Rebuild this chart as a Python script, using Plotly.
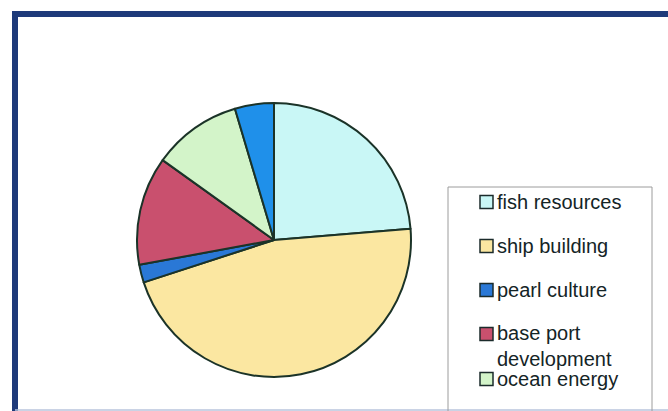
import plotly.graph_objects as go

# Share of each marine industry (percent), read clockwise from 12 o'clock
categories = ["fish resources", "ship building", "pearl culture",
              "base port development", "ocean energy", "other"]
shares = [23.7, 46.3, 2.1, 12.8, 10.5, 4.6]
colors = ["#c9f7f6", "#fbe7a1", "#2a78d6", "#c9506e", "#d3f4c9", "#1f90ea"]

# Legend entries shown in the box (the last slice falls below the visible box)
legend_labels = ["fish resources", "ship building", "pearl culture",
                 "base port<br>development", "ocean energy"]
legend_rows_y = [202, 246, 290, 334, 379]      # pixel centre of each marker row
legend_text_y = [202, 246, 290, 346, 379]      # pixel centre of each text block

W, H = 668, 411


def px(x):
    return x / W


def py(y):
    return 1 - y / H


# pie placement in pixels
cx, cy, r = 274, 240, 137

fig = go.Figure(
    go.Pie(
        labels=categories,
        values=shares,
        sort=False,
        direction="clockwise",
        rotation=0,
        textinfo="none",
        marker=dict(colors=colors, line=dict(color="#1b3328", width=2)),
        domain=dict(x=[px(cx - r), px(cx + r)], y=[py(cy + r), py(cy - r)]),
        showlegend=False,
    )
)

shapes = []
annotations = []

# outer frame (right and bottom edges run past the page)
shapes.append(dict(type="rect", xref="paper", yref="paper",
                   x0=px(15), x1=px(674), y0=py(416), y1=py(14),
                   line=dict(color="#1e3a7a", width=6), layer="above"))
# faint lower edge
shapes.append(dict(type="line", xref="paper", yref="paper",
                   x0=px(15), x1=px(668), y0=py(410), y1=py(410),
                   line=dict(color="#b8c4dc", width=1.5)))

# legend box
shapes.append(dict(type="rect", xref="paper", yref="paper",
                   x0=px(448), x1=px(652), y0=py(415), y1=py(187),
                   line=dict(color="#9c9c9c", width=1), fillcolor="rgba(0,0,0,0)"))

for lab, col, ym, yt in zip(legend_labels, colors, legend_rows_y, legend_text_y):
    shapes.append(dict(type="rect", xref="paper", yref="paper",
                       x0=px(480), x1=px(493), y0=py(ym + 6.5), y1=py(ym - 6.5),
                       fillcolor=col, line=dict(color="#1b2b2b", width=1.5)))
    annotations.append(dict(xref="paper", yref="paper", x=px(495), y=py(yt),
                            xanchor="left", yanchor="middle", align="left",
                            text=lab, showarrow=False,
                            font=dict(family="Liberation Sans, Arial, sans-serif",
                                      size=20, color="#142426")))

fig.update_layout(
    width=W, height=H,
    margin=dict(l=0, r=0, t=0, b=0),
    paper_bgcolor="white",
    plot_bgcolor="white",
    shapes=shapes,
    annotations=annotations,
)

fig.write_html("out.html")
